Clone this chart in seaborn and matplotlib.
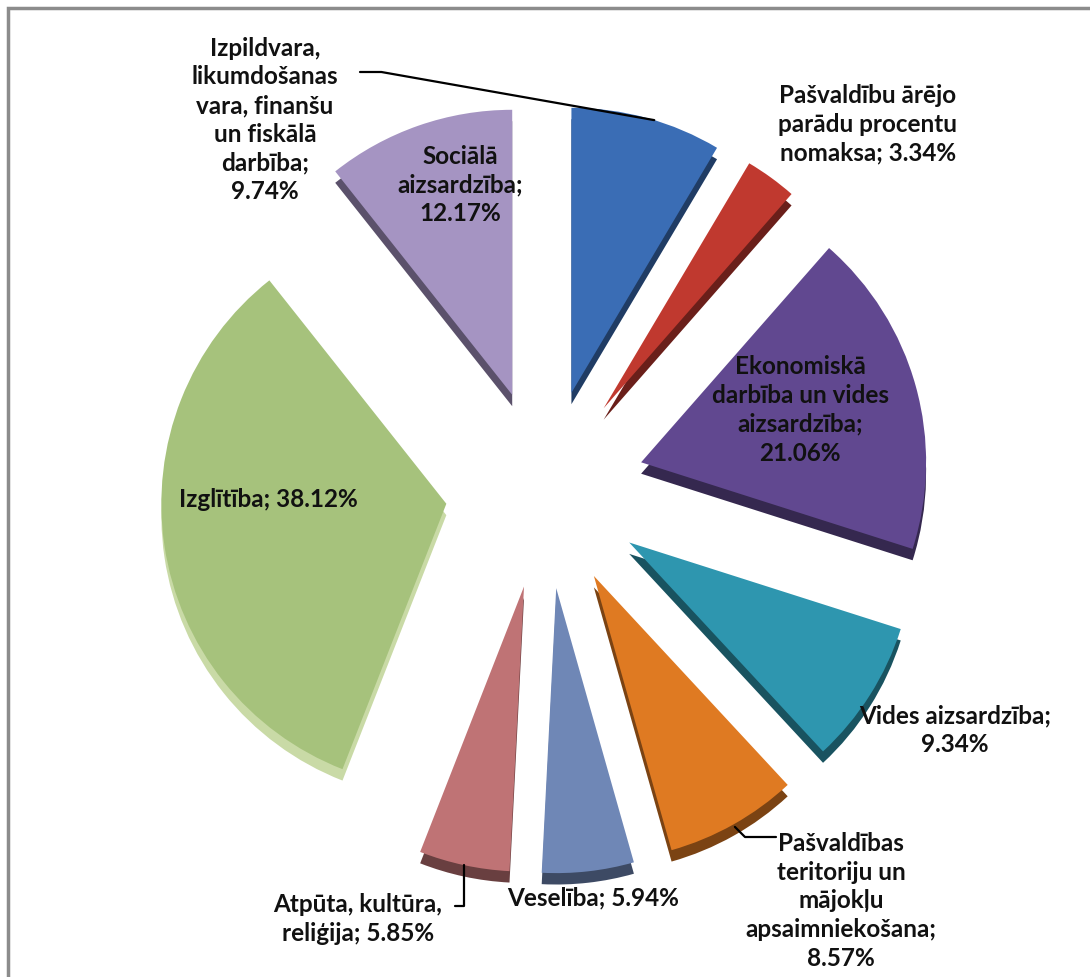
import numpy as np
import matplotlib
matplotlib.use("Agg")
import matplotlib.pyplot as plt
from matplotlib.patches import Rectangle
import matplotlib.colors as mcolors
import seaborn as sns

# budget structure (shares as printed on the chart)
categories = [
    "Izpildvara,\nlikumdošanas\nvara, finanšu\nun fiskālā\ndarbība;",
    "Pašvaldību ārējo\nparādu procentu\nnomaksa;",
    "Ekonomiskā\ndarbība un vides\naizsardzība;",
    "Vides aizsardzība;",
    "Pašvaldības\nteritoriju un\nmājokļu\napsaimniekošana;",
    "Veselība;",
    "Atpūta, kultūra,\nreliģija;",
    "Izglītība;",
    "Sociālā\naizsardzība;",
]
shares = [9.74, 3.34, 21.06, 9.34, 8.57, 5.94, 5.85, 38.12, 12.17]
# value on its own line or on the same line as the name
value_sep = ["\n", " ", "\n", "\n", "\n", " ", " ", " ", "\n"]
colors = ["#3A6DB5", "#C0392F", "#614890", "#2E96AF", "#DF7A22",
          "#6F87B6", "#BF7375", "#A6C27C", "#A594C2"]

sns.set_theme(style="white")
plt.rcParams["font.family"] = ["Lato", "DejaVu Sans"]

W, H = 1090, 978
R_PX = 285.0
CX, CY = 545.0, 490.0

fig = plt.figure(figsize=(W / 100, H / 100), dpi=100)
ax = fig.add_axes([0, 0, 1, 1])
ax.set_aspect("equal")
ax.axis("off")

explode = [0.35] * len(shares)

# 3D depth: darker copy shifted down
side_colors = [tuple(np.array(mcolors.to_rgb(c)) * 0.55) for c in colors]
side_colors[7] = "#C9DAA6"
ax.pie(shares, colors=side_colors, startangle=90, counterclock=False,
       explode=explode, center=(0, -0.04), radius=1,
       wedgeprops=dict(linewidth=0))
wedges, _ = ax.pie(shares, colors=colors, startangle=90, counterclock=False,
                   explode=explode, center=(0, 0), radius=1,
                   wedgeprops=dict(linewidth=0))
ax.set_xlim(-CX / R_PX, (W - CX) / R_PX)
ax.set_ylim(-(H - CY) / R_PX, CY / R_PX)


def fig_xy(px, py):
    return px / W, 1 - py / H


def rim_point(w, frac=0.5, r_scale=1.0):
    th = np.deg2rad(w.theta1 + frac * (w.theta2 - w.theta1))
    cx, cy = w.center
    return cx + w.r * r_scale * np.cos(th), cy + w.r * r_scale * np.sin(th)


label_pos = [(265, 120), (868, 124), (800, 410), (955, 730), (841, 901),
             (593, 898), (358, 919), (268, 500), (460, 185)]
txt = dict(fontsize=17.5, fontweight="bold", color="#111111",
           ha="center", va="center", linespacing=1.3)
for cat, val, sep, (px, py) in zip(categories, shares, value_sep, label_pos):
    fig.text(*fig_xy(px, py), f"{cat}{sep}{val:.2f}%", **txt)

# leader lines
lp = dict(arrowstyle="-", color="black", lw=1.6, shrinkA=0, shrinkB=0)
ax.annotate("", xy=rim_point(wedges[0], 0.45), xycoords="data",
            xytext=fig_xy(360, 73), textcoords="figure fraction",
            arrowprops=dict(lp, connectionstyle="angle,angleA=0,angleB=-10,rad=0"))
ax.annotate("", xy=rim_point(wedges[6], 0.5), xycoords="data",
            xytext=fig_xy(455, 907), textcoords="figure fraction",
            arrowprops=dict(lp, connectionstyle="angle,angleA=0,angleB=90,rad=0"))
ax.annotate("", xy=rim_point(wedges[4], 0.5, 1.01), xycoords="data",
            xytext=fig_xy(776, 838), textcoords="figure fraction",
            arrowprops=dict(lp, connectionstyle="angle,angleA=180,angleB=-45,rad=0"))

# chart frame
fig.add_artist(Rectangle((8 / W, -0.1), 1.2, 1.1 - 9 / H, transform=fig.transFigure,
                         fill=False, ec="#8C8C8C", lw=2.5))

fig.savefig("out.png", dpi=100)
